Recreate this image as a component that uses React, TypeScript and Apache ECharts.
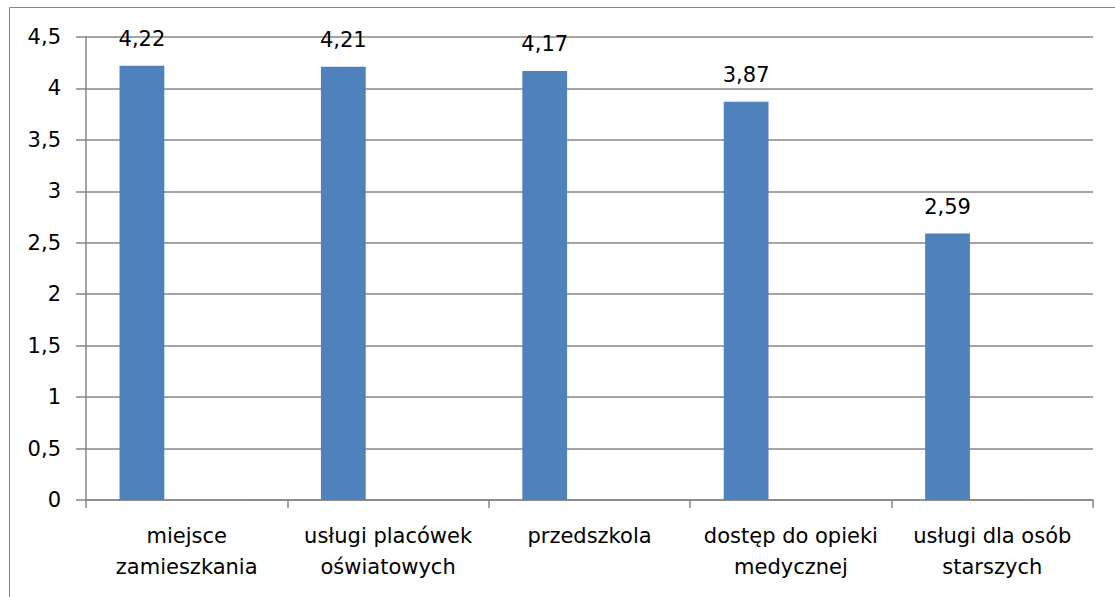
import React, { useEffect, useRef } from "react";
import * as echarts from "echarts";

const categories = [
  "miejsce\nzamieszkania",
  "usługi placówek\noświatowych",
  "przedszkola",
  "dostęp do opieki\nmedycznej",
  "usługi dla osób\nstarszych",
];
const values = [4.22, 4.21, 4.17, 3.87, 2.59];
const emptyValues = ["-", "-", "-", "-", "-"];
const yTicks = { min: 0, max: 4.5, interval: 0.5 };

const FONT = "DejaVu Sans";
const GRID_COLOR = "#868686";

export default function App() {
  const ref = useRef<HTMLDivElement>(null);
  useEffect(() => {
    if (!ref.current) return;
    const chart = echarts.init(ref.current, undefined, { renderer: "svg" });
    chart.setOption({
      animation: false,
      backgroundColor: "#ffffff",
      textStyle: { fontFamily: FONT },
      grid: {
        left: 86,
        right: 22,
        top: 37,
        bottom: 97,
        containLabel: false,
        outerBoundsMode: "none",
      },
      graphic: [
        {
          type: "rect",
          shape: { x: 9.5, y: 7.5, width: 1300, height: 800 },
          style: { fill: "none", stroke: "#888888", lineWidth: 1 },
          silent: true,
        },
      ],
      xAxis: {
        type: "category",
        data: categories,
        boundaryGap: true,
        axisLine: { show: true, lineStyle: { color: GRID_COLOR, width: 1.5 } },
        axisTick: {
          show: true,
          length: 8,
          lineStyle: { color: GRID_COLOR, width: 1.5 },
        },
        axisLabel: {
          interval: 0,
          color: "#000000",
          fontFamily: FONT,
          fontSize: 21,
          lineHeight: 31,
          margin: 20,
        },
        splitLine: { show: false },
      },
      yAxis: {
        type: "value",
        min: yTicks.min,
        max: yTicks.max,
        interval: yTicks.interval,
        axisLine: { show: true, lineStyle: { color: GRID_COLOR, width: 1.5 } },
        axisTick: {
          show: true,
          length: 10,
          lineStyle: { color: GRID_COLOR, width: 1.5 },
        },
        axisLabel: {
          color: "#000000",
          fontFamily: FONT,
          fontSize: 21,
          margin: 25,
          formatter: (v: number) => String(v).replace(".", ","),
        },
        splitLine: { show: true, lineStyle: { color: GRID_COLOR, width: 1.5 } },
      },
      series: [
        {
          type: "bar",
          data: values,
          barGap: "0%",
          barCategoryGap: "33.3%",
          itemStyle: { color: "#4F81BD" },
          label: {
            show: true,
            position: "top",
            distance: 16,
            color: "#000000",
            fontFamily: FONT,
            fontSize: 21,
            formatter: (p: any) => p.value.toFixed(2).replace(".", ","),
          },
        },
        {
          type: "bar",
          data: emptyValues,
          barGap: "0%",
          barCategoryGap: "33.3%",
          itemStyle: { color: "#C0504D" },
        },
        {
          type: "bar",
          data: emptyValues,
          barGap: "0%",
          barCategoryGap: "33.3%",
          itemStyle: { color: "#9BBB59" },
        },
      ],
    });
    return () => chart.dispose();
  }, []);
  return (
    <div
      ref={ref}
      style={{ position: "fixed", left: 0, top: 0, width: 1115, height: 597 }}
    />
  );
}
